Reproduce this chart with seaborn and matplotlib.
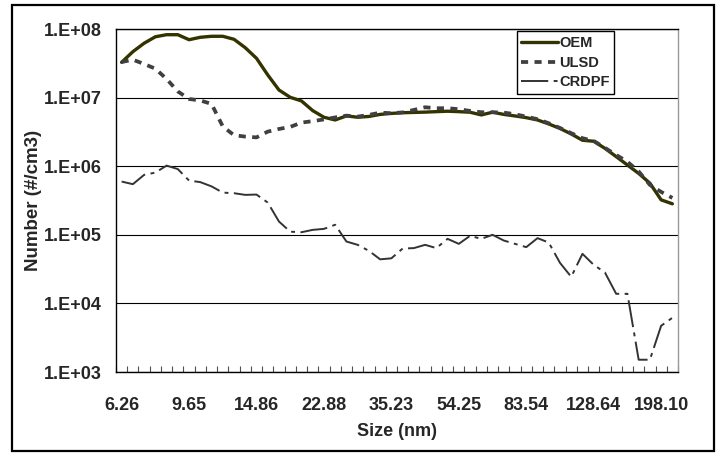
import numpy as np
import pandas as pd
import matplotlib
matplotlib.use("Agg")
import matplotlib.pyplot as plt
from matplotlib.ticker import FixedLocator, FuncFormatter, NullFormatter
from matplotlib.patches import Rectangle
from matplotlib.lines import Line2D
import seaborn as sns

# ---- data ----
sizes = [6.26, 6.73, 7.23, 7.77, 8.35, 8.97, 9.65, 10.37, 11.14, 11.97,
         12.87, 13.83, 14.86, 15.97, 17.16, 18.44, 19.82, 21.30, 22.88, 24.59,
         26.42, 28.39, 30.51, 32.79, 35.23, 37.86, 40.68, 43.72, 46.98, 50.49,
         54.25, 58.30, 62.65, 67.32, 72.34, 77.74, 83.54, 89.77, 96.47, 103.67,
         111.41, 119.72, 128.64, 138.24, 148.56, 159.64, 171.55, 184.35, 198.10, 212.88]

oem = [3.27e7, 4.67e7, 6.2e7, 7.7e7, 8.26e7, 8.26e7, 6.98e7, 7.57e7, 7.83e7, 7.83e7,
       7.08e7, 5.34e7, 3.74e7, 2.14e7, 1.29e7, 1.01e7, 8.94e6, 6.46e6, 5.17e6, 4.72e6,
       5.41e6, 5.17e6, 5.31e6, 5.69e6, 5.88e6, 6.02e6, 6.08e6, 6.14e6, 6.24e6, 6.33e6,
       6.24e6, 6.12e6, 5.59e6, 6.12e6, 5.69e6, 5.40e6, 5.10e6, 4.72e6, 4.13e6, 3.55e6,
       2.95e6, 2.39e6, 2.31e6, 1.82e6, 1.38e6, 1.04e6, 7.85e5, 5.65e5, 3.23e5, 2.83e5]

ulsd = [3.3e7, 3.57e7, 3.09e7, 2.64e7, 1.87e7, 1.23e7, 9.55e6, 9.09e6, 8.08e6, 3.80e6,
        2.83e6, 2.70e6, 2.63e6, 3.19e6, 3.49e6, 3.74e6, 4.32e6, 4.54e6, 4.81e6, 5.14e6,
        5.46e6, 5.28e6, 5.59e6, 6.04e6, 5.92e6, 6.08e6, 6.61e6, 7.23e6, 7.0e6, 7.0e6,
        6.77e6, 6.39e6, 6.12e6, 6.12e6, 6.04e6, 5.72e6, 5.28e6, 4.84e6, 4.23e6, 3.61e6,
        3.03e6, 2.56e6, 2.34e6, 1.85e6, 1.46e6, 1.16e6, 8.4e5, 5.34e5, 4.22e5, 3.45e5]

crdpf = [5.97e5, 5.47e5, 7.47e5, 8.07e5, 1.02e6, 9.08e5, 6.17e5, 5.86e5, 5.08e5, 4.12e5,
         4.04e5, 3.82e5, 3.86e5, 2.95e5, 1.56e5, 1.11e5, 1.09e5, 1.18e5, 1.22e5, 1.40e5,
         7.98e4, 7.14e4, 5.84e4, 4.39e4, 4.54e4, 6.3e4, 6.4e4, 7.14e4, 6.4e4, 8.73e4,
         7.38e4, 9.66e4, 8.73e4, 1.0e5, 8.25e4, 7.38e4, 6.61e4, 8.94e4, 7.71e4, 3.9e4,
         2.44e4, 5.28e4, 3.65e4, 2.82e4, 1.38e4, 1.38e4, 1.51e3, 1.51e3, 4.72e3, 6.17e3]

series_names = ["OEM", "ULSD", "CRDPF"]
label_every = 6

# ---- figure ----
sns.set_style("white")
plt.rcParams['font.family'] = ['Liberation Sans', 'DejaVu Sans']
plt.rcParams['font.weight'] = 'bold'

fig = plt.figure(figsize=(7.2, 4.54), dpi=100)
ax = fig.add_axes([116/720, 1-372/454, (678-116)/720, (372-29)/454])

pos = list(range(len(sizes)))
df = pd.DataFrame({"pos": pos, "OEM": oem, "ULSD": ulsd, "CRDPF": crdpf})

styles = {
    "OEM": dict(color="#333300", lw=2.4, dashes=None),
    "ULSD": dict(color="#404040", lw=2.7, dashes=(1.9, 1.7)),
    "CRDPF": dict(color="#333333", lw=1.4, dashes=(14, 2.8, 2, 2.8)),
}

for name in series_names:
    st = styles[name]
    sns.lineplot(data=df, x="pos", y=name, ax=ax, color=st["color"],
                 linewidth=st["lw"], legend=False)
    ln = ax.lines[-1]
    if st["dashes"] is not None:
        ln.set_dashes(st["dashes"])

ax.set_yscale("log")
ax.set_ylim(1e3, 1e8)
ax.set_xlim(-0.5, len(sizes) - 0.5)

ax.yaxis.set_major_locator(FixedLocator([10.0**k for k in range(3, 9)]))
ax.yaxis.set_minor_formatter(NullFormatter())
ax.yaxis.set_minor_locator(FixedLocator([]))
ax.yaxis.set_major_formatter(FuncFormatter(lambda v, p: "1.E+%02d" % int(round(np.log10(v)))))
ax.grid(axis="y", color="black", linewidth=0.8)
ax.grid(axis="x", visible=False)

lab_pos = pos[::label_every]
ax.set_xticks(lab_pos)
ax.set_xticklabels(["%.2f" % sizes[i] for i in lab_pos])
ax.xaxis.set_minor_locator(FixedLocator(np.arange(-0.5, len(sizes), 1.0)))
ax.tick_params(axis="x", which="major", length=0, pad=18, labelsize=13)
ax.tick_params(axis="x", which="minor", length=4, width=0.8, direction="in",
               color="#505050", bottom=True)
ax.tick_params(axis="y", which="major", length=0, pad=10, labelsize=13)
for lbl in ax.get_xticklabels() + ax.get_yticklabels():
    lbl.set_fontweight("bold")

for s in ["left", "bottom", "top"]:
    ax.spines[s].set_color("black")
    ax.spines[s].set_linewidth(1.0)
ax.spines["right"].set_color("#999999")
ax.spines["right"].set_linewidth(1.0)

ax.set_xlabel("Size (nm)", fontsize=13, fontweight="bold")
ax.set_ylabel("Number (#/cm3)", fontsize=13.5, fontweight="bold")
ax.xaxis.set_label_coords(0.5, -0.15)
ax.yaxis.set_label_coords(-0.131, 0.5)

handles = []
for name in series_names:
    st = styles[name]
    h = Line2D([0], [0], color=st["color"], lw=st["lw"])
    if st["dashes"] is not None:
        h.set_dashes(st["dashes"])
    handles.append(h)
leg = ax.legend(handles, series_names, loc="upper left", bbox_to_anchor=(0.713, 0.993),
                frameon=True, fancybox=False, framealpha=1, edgecolor="black",
                prop={"weight": "bold", "size": 10.5}, handlelength=2.5,
                handletextpad=0.1, labelspacing=0.4, borderpad=0.3,
                borderaxespad=0)
leg.get_frame().set_linewidth(1.0)

fig.patches.append(Rectangle((12/720, 1-451/454), (714-12)/720, (451-5)/454,
                             transform=fig.transFigure, fill=False,
                             edgecolor="black", linewidth=1.6))

fig.savefig("out.png", dpi=100)
